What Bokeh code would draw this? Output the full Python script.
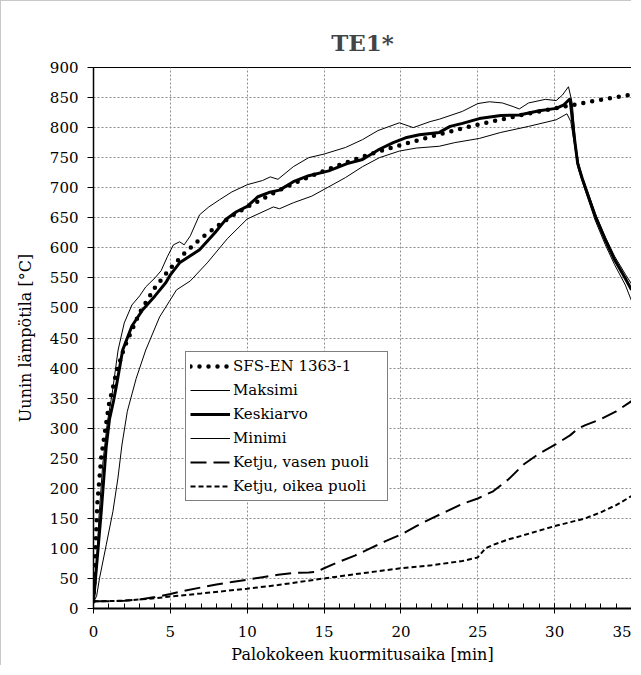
from bokeh.plotting import figure
from bokeh.models import Range1d, SingleIntervalTicker, Legend, LegendItem
from bokeh.embed import file_html
from bokeh.resources import INLINE

# ---- data ----
std_t = [0, 0.25, 0.5, 1, 1.5, 2, 3, 4, 5, 6, 7, 8, 9, 10, 12, 14, 16, 18, 20, 22.5, 25, 27.5, 30, 32.5, 35]
std_T = [12, 175, 251, 339, 394, 434, 492, 534, 566, 593, 616, 635, 653, 668, 695, 718, 738, 756, 771, 789, 805, 819, 832, 844, 855]

max_t = [0, 0.15, 0.35, 0.6, 0.9, 1.2, 1.6, 2.0, 2.5, 3.0, 3.4, 4.0, 4.4, 4.8, 5.2, 5.6, 5.9, 6.3, 6.9, 7.5, 8.2, 9.0,
         10, 11, 11.5, 12, 13, 14, 15, 16.4, 17.5, 18.5, 19.9, 20.8, 21.9, 22.5, 24, 25, 25.75, 26.6, 27.3, 27.7,
         28.3, 29.4, 30.1, 30.5, 30.9, 31.15, 31.35, 31.55, 31.8, 32.2, 32.65, 33.3, 33.9, 34.6, 35]
max_T = [12, 40, 150, 240, 310, 355, 430, 475, 505, 520, 535, 550, 562, 585, 605, 610, 605, 620, 655, 668, 680, 693,
         705, 712, 718, 714, 735, 750, 756, 767, 780, 795, 808, 800, 810, 814, 827, 840, 843, 841, 835, 831,
         841, 847, 845, 854, 868, 840, 775, 742, 718, 690, 657, 618, 586, 556, 540]

mean_t = [0, 0.13, 0.5, 0.83, 1.04, 1.3, 1.5, 1.9, 2.5, 3.2, 4, 4.7, 5, 5.6, 6.2, 6.9, 7.9, 8.6, 9.3, 10, 10.7, 11.4,
          12.1, 13, 14, 15.3, 16.5, 17.5, 18.6, 19.5, 20.3, 21.2, 22.5, 23.2, 24, 25.1, 26.5, 27.7, 29, 30.1,
          30.6, 31.0, 31.3, 31.5, 31.8, 32.2, 32.65, 33.3, 33.9, 34.6, 35]
mean_T = [12, 50, 160, 270, 315, 345, 372, 430, 470, 497, 520, 542, 555, 575, 585, 597, 625, 647, 660, 669, 685, 692,
          696, 710, 720, 728, 740, 747, 764, 775, 783, 788, 792, 802, 807, 815, 820, 821, 828, 832,
          838, 848, 780, 740, 715, 685, 652, 613, 580, 549, 530]

min_t = [0, 0.2, 0.39, 0.83, 1.26, 1.59, 1.85, 2.2, 2.78, 3.4, 4.3, 5.4, 6.3, 7.4, 8.7, 10, 11.7, 12.1, 13, 14.2,
         15.2, 16.4, 17.5, 18.6, 19.9, 21, 22.5, 23.5, 25.1, 26.5, 28.3, 30.1, 30.8, 31.05, 31.3, 31.5, 31.8,
         32.2, 32.65, 33.3, 33.9, 34.6, 35]
min_T = [12, 20, 50, 106, 161, 217, 272, 328, 383, 430, 485, 530, 545, 575, 615, 648, 668, 665, 675, 686,
         700, 717, 735, 750, 761, 766, 769, 775, 782, 792, 802, 813, 823, 810, 770, 735, 710,
         680, 645, 605, 572, 538, 512]

left_t = [0, 1, 2, 3, 4, 5, 6, 7, 8, 9, 10, 11, 12, 13, 14, 14.5, 15, 16, 17, 18, 19, 20, 21, 22, 23, 24, 25, 26,
          27, 28, 29, 30, 31, 31.5, 32, 33, 34, 35]
left_T = [12, 12, 13, 15, 19, 24, 30, 35, 40, 44, 48, 52, 56, 59, 60, 61, 67, 78, 88, 100, 112, 123, 137, 150, 162,
          174, 183, 195, 215, 240, 258, 272, 288, 299, 305, 315, 328, 345]

right_t = [0, 2, 4, 5, 7, 10, 12, 15, 17, 20, 22, 24, 25, 25.5, 26, 27, 28, 30, 32, 33, 34, 35]
right_T = [12, 13, 17, 20, 25, 33, 39, 50, 57, 67, 72, 79, 85, 100, 106, 115, 122, 137, 150, 160, 172, 187]

x_ticks_interval = 5
y_ticks_interval = 50

SERIF = "DejaVu Serif"

p = figure(width=631, height=665, output_backend="svg", toolbar_location=None,
           x_range=Range1d(0, 35), y_range=Range1d(0, 900),
           min_border_left=92, min_border_right=1, min_border_top=66, min_border_bottom=57)
p.styles = {"border-left": "1px solid #c8c8c8", "border-top": "1px solid #c8c8c8"}

p.title.text = "TE1*"
p.title.align = "center"
p.title.text_font = SERIF
p.title.text_font_size = "23px"
p.title.text_font_style = "bold"
p.title.standoff = 24

p.outline_line_color = "black"
p.outline_line_width = 1

# axes
p.xaxis.ticker = SingleIntervalTicker(interval=x_ticks_interval, num_minor_ticks=5)
p.yaxis.ticker = SingleIntervalTicker(interval=y_ticks_interval, num_minor_ticks=0)
for ax in (p.xaxis[0], p.yaxis[0]):
    ax.major_label_text_font = SERIF
    ax.major_label_text_font_size = "15px"
    ax.major_label_text_color = "black"
    ax.axis_label_text_font = SERIF
    ax.axis_label_text_font_size = "16px"
    ax.axis_label_text_font_style = "normal"
    ax.axis_label_text_color = "black"
    ax.axis_line_color = "black"
    ax.major_tick_line_color = "black"
    ax.minor_tick_line_color = "black"

p.xaxis.axis_label = "Palokokeen kuormitusaika [min]"
p.xaxis.axis_line_width = 2
p.xaxis.major_tick_in = 5
p.xaxis.major_tick_out = 5
p.xaxis.minor_tick_in = 5
p.xaxis.minor_tick_out = 0
p.xaxis.major_label_standoff = 12
p.xaxis.axis_label_standoff = 5

p.yaxis.axis_label = "Uunin lämpötila [°C]"
p.yaxis.axis_line_width = 1.5
p.yaxis.major_tick_in = 0
p.yaxis.major_tick_out = 6
p.yaxis.major_label_standoff = 9
p.yaxis.axis_label_standoff = 12

for g in (p.xgrid[0], p.ygrid[0]):
    g.grid_line_color = "#8c8c8c"
    g.grid_line_dash = "2 2"
    g.grid_line_width = 1

# series
r_max = p.line(max_t, max_T, line_color="black", line_width=1)
r_min = p.line(min_t, min_T, line_color="black", line_width=1)
r_mean = p.line(mean_t, mean_T, line_color="black", line_width=3)
r_left = p.line(left_t, left_T, line_color="black", line_width=2, line_dash="16 7")
r_right = p.line(right_t, right_T, line_color="black", line_width=2, line_dash="5 3")
r_std = p.line(std_t, std_T, line_color="black", line_width=4.5, line_dash="0 9", line_cap="round")

legend = Legend(items=[
    LegendItem(label="SFS-EN 1363-1", renderers=[r_std]),
    LegendItem(label="Maksimi", renderers=[r_max]),
    LegendItem(label="Keskiarvo", renderers=[r_mean]),
    LegendItem(label="Minimi", renderers=[r_min]),
    LegendItem(label="Ketju, vasen puoli", renderers=[r_left]),
    LegendItem(label="Ketju, oikea puoli", renderers=[r_right]),
], location=(92, 107))
legend.label_text_font = SERIF
legend.label_text_font_size = "15px"
legend.label_text_color = "black"
legend.glyph_width = 40
legend.glyph_height = 20
legend.label_height = 20
legend.label_standoff = 3
legend.label_width = 150
legend.spacing = 4
legend.padding = 4
legend.margin = 0
legend.border_line_color = "black"
legend.border_line_width = 1
legend.background_fill_color = "white"
legend.background_fill_alpha = 1
p.add_layout(legend, "center")

open("out.html", "w").write(file_html(p, INLINE))
